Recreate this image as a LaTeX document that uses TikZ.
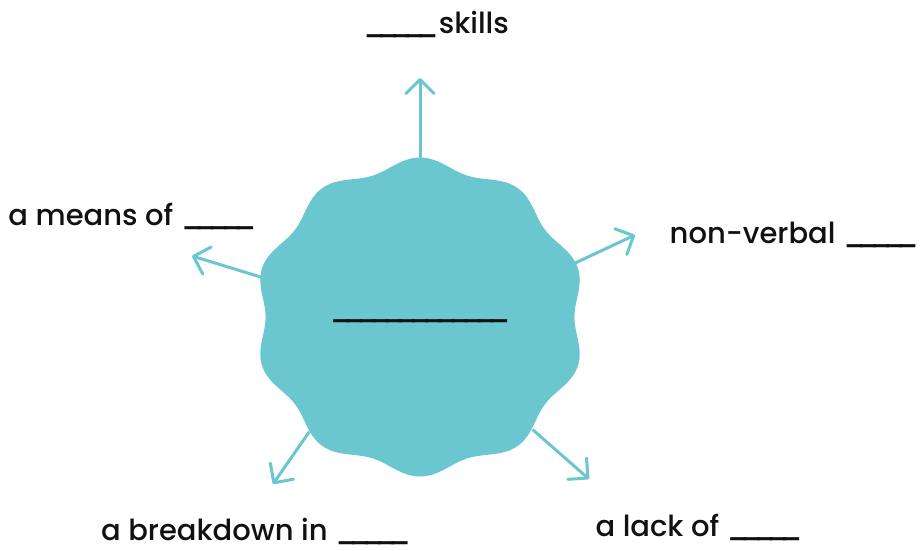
\documentclass[tikz,border=0pt]{standalone}
\usepackage{fontspec}
\setmainfont{Poppins}[UprightFont={* Medium}]
\usetikzlibrary{arrows.meta}
\definecolor{teal}{RGB}{106,198,207}
\definecolor{ink}{RGB}{17,17,17}
\newcommand\blank[1]{\foreach\i in {1,...,#1}{\_\kern-10pt}\kern10pt}
\begin{document}
	\begin{tikzpicture}[x=1pt, y=-1pt, every node/.style={text=ink, font=\fontsize{29}{34}\selectfont, inner sep=0pt}, link/.style={draw=teal, line width=3pt, -{Straight Barb[angle=90:20pt, round]}}, lbl/.style={anchor=base}]
		\useasboundingbox (0,0) rectangle (922,550);
		\fill[teal, shift={(420,317)}] plot[domain=0:360, samples=361] ({1.04*(154+5.5*cos(10*(\x-90)))*cos(\x)}, {(154+5.5*cos(10*(\x-90)))*sin(\x)}) -- cycle;
		\node[circle, minimum size=318pt](core) at (420,317) {};
		\node[anchor=base](blank) at (420,318) {\blank{13}};
		\coordinate(tipskills) at (420,78);
		\coordinate(tipverbal) at (635,235);
		\coordinate(tipmeans) at (192,256);
		\coordinate(tipbreak) at (273,484);
		\coordinate(tiplack) at (589,479);
		\foreach \a/\t in {90/tipskills, 19/tipverbal, 166/tipmeans, 226/tipbreak, 315.5/tiplack}
			\draw[link] (core.\a) -- (\t);
		\node[lbl](skills) at (436,33) {\blank{5} skills};
		\node[lbl, anchor=base east](verbal) at (919,243) {non-verbal \blank{5}};
		\node[lbl](means) at (132.5,225) {a means of \blank{5}};
		\node[lbl](break) at (256,540) {a breakdown in \blank{5}};
		\node[lbl](lack) at (699,536) {a lack of \blank{5}};
	\end{tikzpicture}
\end{document}
